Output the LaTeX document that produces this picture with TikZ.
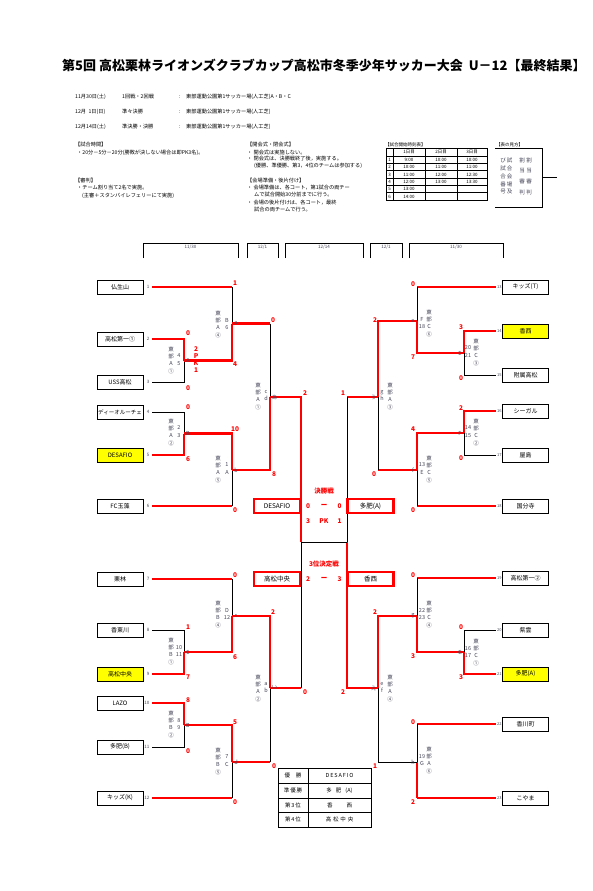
\documentclass[tikz,border=0pt]{standalone}
\usepackage{fontspec}
\setmainfont{Noto Sans CJK JP}
\definecolor{rd}{RGB}{255,0,0}
\definecolor{yl}{RGB}{255,255,0}
\definecolor{ig}{RGB}{70,70,90}
\newcommand\minfo[5]{\node[info] at (#1,#3) {#4}; \node[info] at (#2,#3+7.3) {#5};}
\begin{document}
\begin{tikzpicture}[x=1pt,y=-1pt,
  win/.style={draw=rd,line width=2.8pt},
  lose/.style={draw=black,line width=0.8pt},
  teambox/.style={draw,line width=0.9pt,minimum width=46pt,minimum height=14pt,inner sep=0pt,font=\fontsize{6}{6}\selectfont},
  fbox/.style={draw=rd,line width=2.2pt,minimum width=46pt,minimum height=14pt,inner sep=0pt,font=\fontsize{6.5}{6.5}\selectfont},
  numL/.style={font=\fontsize{4.5}{4.5}\selectfont,inner sep=0pt,text=ig,anchor=east},
  numR/.style={font=\fontsize{4}{4}\selectfont,inner sep=0pt,text=ig,anchor=west},
  sc/.style={font=\bfseries\fontsize{6.5}{6.5}\selectfont,text=rd,inner sep=0pt},
  info/.style={font=\fontsize{5.5}{7.3}\selectfont,align=center,inner sep=0pt,text=ig,anchor=north},
  jl/.style={font=\fontsize{5.5}{5.5}\selectfont,inner sep=0pt,text=ig},
  txt/.style={font=\fontsize{5.2}{5.2}\selectfont,inner sep=0pt,anchor=west},
  hd/.style={font=\fontsize{4.5}{4.5}\selectfont,inner sep=0pt,text=ig},
  ]
\useasboundingbox[fill=white] (0,0) rectangle (592,891);

% ---------- title and header text ----------
\node[font=\bfseries\fontsize{13}{13}\selectfont,inner sep=0pt,anchor=west] (title) at (62,65) {第5回 高松栗林ライオンズクラブカップ高松市冬季少年サッカー大会\ \ U－12【最終結果】};

\node[txt] (d1) at (75,97) {11月30日(土)};
\node[txt] (r1) at (122,97) {1回戦・2回戦};
\node[txt] (c1) at (179,97) {:};
\node[txt] (p1) at (186,97) {東部運動公園第1サッカー場(人工芝)A・B・C};
\node[txt] (d2) at (75,112) {12月\ \ 1日(日)};
\node[txt] (r2) at (122,112) {準々決勝};
\node[txt] (c2) at (179,112) {:};
\node[txt] (p2) at (186,112) {東部運動公園第1サッカー場(人工芝)};
\node[txt] (d3) at (75,127) {12月14日(土)};
\node[txt] (r3) at (122,127) {準決勝・決勝};
\node[txt] (c3) at (179,127) {:};
\node[txt] (p3) at (186,127) {東部運動公園第1サッカー場(人工芝)};

\node[txt] (n1a) at (75,144.5) {【試合時間】};
\node[txt] (n1b) at (77,152.5) {・20分－5分－20分(勝敗が決しない場合は即PK3名)。};
\node[txt] (n2a) at (75,181) {【審判】};
\node[txt] (n2b) at (77,188) {・チーム割り当て2名で実施。};
\node[txt] (n2c) at (82,195.5) {(主審＋スタンバイレフェリーにて実施)};
\node[txt] (n3a) at (247,144.5) {【開会式・閉会式】};
\node[txt] (n3b) at (247,152.5) {・ 開会式は実施しない。};
\node[txt] (n3c) at (247,159) {・ 閉会式は、決勝戦終了後，実施する。};
\node[txt] (n3d) at (254,165.5) {(優勝、準優勝、第3，4位のチームは参加する)};
\node[txt] (n4a) at (247,181) {【会場準備・後片付け】};
\node[txt] (n4b) at (247,188) {・ 会場準備は、各コート，第1試合の両チー};
\node[txt] (n4c) at (254,195) {ムで試合開始30分前までに行う。};
\node[txt] (n4d) at (247,203) {・ 会場の後片付けは、各コート，最終};
\node[txt] (n4e) at (254,210) {試合の両チームで行う。};

% ---------- time table ----------
\node[txt,font=\fontsize{4.5}{4.5}\selectfont] (tt) at (385,144.5) {【試合開始時刻表】};
\draw[line width=0.8pt] (386,148) rectangle (487,200);
\foreach \xx in {393,425,457} \draw[line width=0.8pt] (\xx,148) -- (\xx,200);
\foreach \yy in {156,163.3,170.7,178,185.3,192.7} \draw[line width=0.6pt] (386,\yy) -- (487,\yy);
\begin{scope}[every node/.style={font=\fontsize{4.5}{4.5}\selectfont,inner sep=0pt}]
\node (th1) at (409,152) {1日目}; \node (th2) at (441,152) {2日目}; \node (th3) at (472,152) {3日目};
\node at (389.5,159.7) {1}; \node at (409,159.7) {9:00}; \node at (441,159.7) {10:00}; \node at (472,159.7) {10:00};
\node at (389.5,167) {2}; \node at (409,167) {10:00}; \node at (441,167) {11:00}; \node at (472,167) {11:00};
\node at (389.5,174.4) {3}; \node at (409,174.4) {11:00}; \node at (441,174.4) {12:00}; \node at (472,174.4) {12:30};
\node at (389.5,181.7) {4}; \node at (409,181.7) {12:00}; \node at (441,181.7) {13:00}; \node at (472,181.7) {13:30};
\node at (389.5,189) {5}; \node at (409,189) {13:00};
\node at (389.5,196.4) {6}; \node at (409,196.4) {14:00};
\end{scope}

% ---------- legend ----------
\node[txt,font=\fontsize{4.5}{4.5}\selectfont] (lg) at (496,144.5) {【表の見方】};
\draw[line width=0.8pt] (495,148) -- (542,148) -- (542,207) -- (495,207);
\draw[line width=0.8pt] (542,177) -- (557,177);
\begin{scope}[every node/.style={font=\fontsize{5.5}{5.5}\selectfont,inner sep=0pt,text=ig}]
\node at (503,160) {び}; \node at (503,168) {試}; \node at (503,176) {合}; \node at (503,184) {番}; \node at (503,192) {号};
\node at (509.5,160) {試}; \node at (509.5,168) {合}; \node at (509.5,176) {会}; \node at (509.5,184) {場}; \node at (509.5,192) {及};
\node at (522,160) {割}; \node at (522,170.5) {当}; \node at (522,181) {審}; \node at (522,192) {判};
\node at (529,160) {割}; \node at (529,170.5) {当}; \node at (529,181) {審}; \node at (529,192) {判};
\end{scope}

% ---------- date header brackets ----------
\draw[line width=0.9pt] (143,258) |- (238,243) -- (238,258);
\draw[line width=0.9pt] (247,258) |- (278,243) -- (278,258);
\draw[line width=0.9pt] (285,258) |- (363,243) -- (363,258);
\draw[line width=0.9pt] (370,258) |- (402,243) -- (402,258);
\draw[line width=0.9pt] (409,258) |- (503,243) -- (503,258);
\node[hd] (hd1) at (190.5,247.5) {11/30};
\node[hd] (hd2) at (262.5,247.5) {12/1};
\node[hd] (hd3) at (324,247.5) {12/14};
\node[hd] (hd4) at (386,247.5) {12/1};
\node[hd] (hd5) at (456,247.5) {11/30};

% ---------- teams left ----------
\node[teambox] (t1) at (120,287) {仏生山};
\node[teambox] (t2) at (120,339) {高松第一①};
\node[teambox] (t3) at (120,382) {USS高松};
\node[teambox] (t4) at (120,412) {\fontsize{5.5}{5.5}\selectfont ディーオルーチェ};
\node[teambox,fill=yl] (t5) at (120,455) {DESAFIO};
\node[teambox] (t6) at (120,506) {FC玉藻};
\node[teambox] (t7) at (120,579) {栗林};
\node[teambox] (t8) at (120,630) {香東川};
\node[teambox,fill=yl] (t9) at (120,674) {高松中央};
\node[teambox] (t10) at (120,703) {LAZO};
\node[teambox] (t11) at (120,747) {多肥(B)};
\node[teambox] (t12) at (120,798) {キッズ(K)};
\foreach \i/\yy in {1/287,2/339,3/382,4/412,5/455,6/506,7/579,8/630,9/674,10/703,11/747,12/798}
  \node[numL] (n\i) at (149.5,\yy) {\i};

% ---------- teams right ----------
\node[teambox] (t13) at (525.5,287) {キッズ(T)};
\node[teambox,fill=yl] (t14) at (525.5,331) {香西};
\node[teambox] (t15) at (525.5,375) {附属高松};
\node[teambox] (t16) at (525.5,411) {シーガル};
\node[teambox] (t17) at (525.5,455) {屋島};
\node[teambox] (t18) at (525.5,506) {国分寺};
\node[teambox] (t19) at (525.5,578) {高松第一②};
\node[teambox] (t20) at (525.5,630) {紫雲};
\node[teambox,fill=yl] (t21) at (525.5,674) {多肥(A)};
\node[teambox] (t22) at (525.5,724) {香川町};
\node[teambox] (t23) at (525.5,798) {こやま};
\foreach \i/\yy in {13/287,14/331,15/375,16/411,17/455,18/506,19/578,20/630,21/674,22/724,23/798}
  \node[numR] (n\i) at (497,\yy) {\i};

% ---------- junction coordinates ----------
\coordinate (jA) at (184,360.5);
\coordinate (jB) at (184,433.5);
\coordinate (jC) at (184,652);
\coordinate (jD) at (184,725);
\coordinate (ja) at (232,323.5);
\coordinate (jb) at (232,470);
\coordinate (jc) at (232,616);
\coordinate (jd) at (232,762);
\coordinate (jaa) at (270,397);
\coordinate (jii) at (270,688);
\coordinate (jfL) at (301,542);
\coordinate (jfR) at (347,542);
\coordinate (jE) at (464,353);
\coordinate (jF) at (464,433);
\coordinate (jG) at (464,652);
\coordinate (je) at (417,321);
\coordinate (jf) at (417,470);
\coordinate (jg) at (417,616);
\coordinate (jh) at (417,762);
\coordinate (juu) at (378,397);
\coordinate (jee) at (378,688);

% ---------- left upper ----------
\draw[win] ([xshift=2.5pt]n2.east) -| (jA);
\draw[lose] ([xshift=2.5pt]n3.east) -| (jA);
\draw[win] ([xshift=2.5pt]n1.east) -- (ja |- n1);
\draw[lose] (ja |- n1) -- (ja);
\draw[win] (jA) -| (ja);
\draw[win] (ja) -- (ja -| jaa);
\draw[lose] (ja -| jaa) -- (jaa);
\draw[lose] ([xshift=2.5pt]n4.east) -| (jB);
\draw[win] ([xshift=2.5pt]n5.east) -| (jB);
\draw[win] (jB) -| (jb);
\draw[win] ([xshift=2.5pt]n6.east) -- (jb |- n6);
\draw[lose] (jb |- n6) -- (jb);
\draw[win] (jb) -| (jaa);
\draw[win] (jaa) -| (jfL);

% ---------- left lower ----------
\draw[lose] ([xshift=2.5pt]n8.east) -| (jC);
\draw[win] ([xshift=2.5pt]n9.east) -| (jC);
\draw[win] ([xshift=2.5pt]n7.east) -- (jc |- n7);
\draw[lose] (jc |- n7) -- (jc);
\draw[win] (jC) -| (jc);
\draw[win] (jc) -| (jii);
\draw[win] ([xshift=2.5pt]n10.east) -| (jD);
\draw[lose] ([xshift=2.5pt]n11.east) -| (jD);
\draw[win] (jD) -| (jd);
\draw[win] ([xshift=2.5pt]n12.east) -- (jd |- n12);
\draw[lose] (jd |- n12) -- (jd);
\draw[win] (jd) -- (jd -| jii);
\draw[lose] (jd -| jii) -- (jii);
\draw[win] (jii) -- (jii -| jfL);
\draw[lose] (jii -| jfL) -- (jfL);

% ---------- right upper ----------
\draw[win] ([xshift=-1.5pt]n14.west) -| (jE);
\draw[lose] ([xshift=-1.5pt]n15.west) -| (jE);
\draw[win] ([xshift=-1.5pt]n13.west) -- (je |- n13);
\draw[lose] (je |- n13) -- (je);
\draw[win] (jE) -| (je);
\draw[win] (je) -| (juu);
\draw[win] ([xshift=-1.5pt]n16.west) -| (jF);
\draw[lose] ([xshift=-1.5pt]n17.west) -| (jF);
\draw[win] (jF) -| (jf);
\draw[win] ([xshift=-1.5pt]n18.west) -- (jf |- n18);
\draw[lose] (jf |- n18) -- (jf);
\draw[win] (jf) -- (jf -| juu);
\draw[lose] (jf -| juu) -- (juu);
\draw[win] (juu) -- (juu -| jfR);
\draw[lose] (juu -| jfR) -- (jfR);

% ---------- right lower ----------
\draw[lose] ([xshift=-1.5pt]n20.west) -| (jG);
\draw[win] ([xshift=-1.5pt]n21.west) -| (jG);
\draw[win] ([xshift=-1.5pt]n19.west) -- (jg |- n19);
\draw[lose] (jg |- n19) -- (jg);
\draw[win] (jG) -| (jg);
\draw[win] (jg) -| (jee);
\draw[win] ([xshift=-1.5pt]n22.west) -- (jh |- n22);
\draw[lose] (jh |- n22) -- (jh);
\draw[win] ([xshift=-1.5pt]n23.west) -- (jh |- n23);
\draw[win] (jh |- n23) -- (jh);
\draw[lose] (jh) -- (jh -| jee) -- (jee);
\draw[win] (jee) -| (jfR);
\draw[lose] (jfL) -- (jfR);

% ---------- finals ----------
\node[fbox] (fa) at (277,506) {DESAFIO};
\node[fbox] (fb) at (370.5,506) {多肥(A)};
\node[fbox] (fc) at (277,579) {高松中央};
\node[fbox] (fd) at (370.5,579) {香西};
\node[sc] (ft1) at (324,491) {決勝戦};
\node[sc] (fs1) at (308,506) {0}; \node[sc] (fs2) at (324,506) {ー}; \node[sc] (fs3) at (339.5,506) {0};
\node[sc] (fs4) at (308,521) {3}; \node[sc] (fs5) at (324,521) {PK}; \node[sc] (fs6) at (339.5,521) {1};
\node[sc] (ft2) at (324,564) {3位決定戦};
\node[sc] (ts1) at (308,579) {2}; \node[sc] (ts2) at (324,579) {ー}; \node[sc] (ts3) at (339.5,579) {3};

% ---------- scores ----------
\node[sc] at (188,333) {0}; \node[sc] at (188,388) {0};
\node[sc,align=center,font=\bfseries\fontsize{6.5}{7}\selectfont] at (196,359.5) {2\\P\\K\\1};
\node[sc] at (235,283) {1}; \node[sc] at (235,364) {4};
\node[sc] at (188,407) {0}; \node[sc] at (188,459) {6};
\node[sc] at (235,429) {10}; \node[sc] at (235,510) {0};
\node[sc] at (273,320) {0}; \node[sc] at (274,474) {8};
\node[sc] at (188,627) {1}; \node[sc] at (188,677) {7};
\node[sc] at (235,575) {0}; \node[sc] at (235,657) {6};
\node[sc] at (273,612) {2}; \node[sc] at (274,766) {0};
\node[sc] at (188,700) {8}; \node[sc] at (188,751) {0};
\node[sc] at (235,722) {5}; \node[sc] at (235,802) {0};
\node[sc] at (305,393) {2}; \node[sc] at (305,692) {0};
\node[sc] at (343,393) {1}; \node[sc] at (343,692) {2};
\node[sc] at (461,327) {3}; \node[sc] at (461,378) {0};
\node[sc] at (413,284) {0}; \node[sc] at (413,357) {7};
\node[sc] at (461,408) {2}; \node[sc] at (461,458) {0};
\node[sc] at (413,429) {4}; \node[sc] at (413,510) {0};
\node[sc] at (375,320) {2}; \node[sc] at (374,474) {0};
\node[sc] at (461,627) {0}; \node[sc] at (461,677) {3};
\node[sc] at (413,575) {0}; \node[sc] at (413,656) {3};
\node[sc] at (413,722) {0}; \node[sc] at (413,802) {2};
\node[sc] at (375,612) {2}; \node[sc] at (375,766) {1};

% ---------- junction labels ----------
\node[jl] at (188,360.5) {A}; \node[jl] at (236,323.5) {a};
\node[jl] at (188,433.5) {B}; \node[jl] at (236,470) {b};
\node[jl] at (274.5,397) {あ};
\node[jl] at (188,652) {C}; \node[jl] at (236,616) {c};
\node[jl] at (188,725) {D}; \node[jl] at (236,762) {d};
\node[jl] at (274.5,688) {い};
\node[jl] at (460,353) {E}; \node[jl] at (413,321) {e};
\node[jl] at (460,433) {F}; \node[jl] at (413,470) {f};
\node[jl] at (373.5,397) {う};
\node[jl] at (460,652) {G}; \node[jl] at (413,616) {g};
\node[jl] at (413,762) {h};
\node[jl] at (373.5,688) {え};

% ---------- match info ----------
\minfo{171}{179}{346.5}{東\\部\\A\\①}{4\\5}
\minfo{218}{227}{310.5}{東\\部\\A\\④}{B\\6}
\minfo{171}{179}{418.5}{東\\部\\A\\②}{2\\3}
\minfo{218}{227}{455.5}{東\\部\\A\\⑤}{1\\A}
\minfo{258}{266}{382.5}{東\\部\\A\\①}{c\\d}
\minfo{171}{179}{637.5}{東\\部\\B\\①}{10\\11}
\minfo{218}{227}{600.5}{東\\部\\B\\④}{D\\12}
\minfo{258}{266}{674.5}{東\\部\\A\\②}{a\\b}
\minfo{171}{179}{710.5}{東\\部\\B\\②}{8\\9}
\minfo{218}{227}{747.5}{東\\部\\B\\⑤}{7\\C}
\minfo{476}{468}{338.5}{東\\部\\C\\③}{20\\21}
\minfo{429}{422}{309.5}{東\\部\\C\\⑥}{F\\18}
\minfo{476}{468}{418.5}{東\\部\\C\\②}{14\\15}
\minfo{429}{422}{455.5}{東\\部\\C\\⑤}{13\\E}
\minfo{390}{382}{382.5}{東\\部\\A\\③}{g\\h}
\minfo{476}{468}{638.5}{東\\部\\C\\①}{16\\17}
\minfo{429}{422}{600.5}{東\\部\\C\\④}{22\\23}
\minfo{390}{382}{674.5}{東\\部\\A\\④}{e\\f}
\minfo{429}{422}{746.5}{東\\部\\A\\⑥}{19\\G}

% ---------- final standings ----------
\draw[line width=0.9pt] (278,768) rectangle (371,827);
\draw[line width=0.9pt] (308,768) -- (308,827);
\foreach \yy in {783,798,812} \draw[line width=0.9pt] (278,\yy) -- (371,\yy);
\begin{scope}[every node/.style={font=\fontsize{5.5}{5.5}\selectfont,inner sep=0pt}]
\node (r1a) at (293,775.5) {優\hspace{6pt}勝};
\node (r2a) at (293,790.5) {準\,優\,勝};
\node (r3a) at (293,805) {第\,3\,位};
\node (r4a) at (293,819.5) {第\,4\,位};
\node (r1b) at (339.5,775.5) {D\,E\,S\,A\,F\,I\,O};
\node (r2b) at (339.5,790.5) {多\hspace{4pt}肥\hspace{4pt}(A)};
\node (r3b) at (339.5,805) {香\hspace{14pt}西};
\node (r4b) at (339.5,819.5) {高\,\,松\,\,中\,\,央};
\end{scope}
\end{tikzpicture}
\end{document}
